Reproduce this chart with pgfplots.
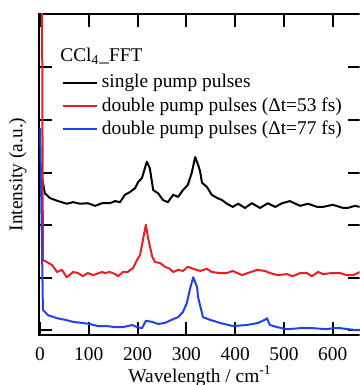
\documentclass[border=0pt]{standalone}
\usepackage{fontspec}
\setmainfont{Liberation Serif}
\usepackage{pgfplots}
\pgfplotsset{compat=1.18}
\definecolor{cred}{RGB}{232,30,36}
\definecolor{cblue}{RGB}{35,65,232}
\begin{document}
\fontsize{9.7}{11.6}\selectfont
\begin{tikzpicture}[font=\fontsize{9.7}{11.6}\selectfont]
\useasboundingbox (-19.75pt,-25pt) rectangle (160pt,167.5pt);
\clip (-19.75pt,-25pt) rectangle (160pt,167.5pt);
\begin{axis}[
  scale only axis, width=160.55pt, height=160.5pt,
  xmin=-1, xmax=657, ymin=0, ymax=6.114,
  xtick={0,100,...,600},
  ytick={0.095,1.095,2.095,3.095,4.095,5.095}, yticklabels={},
  tick pos=both, tick align=inside, major tick length=6.5pt,
  every tick/.style={line width=1pt, black},
  axis line style={line width=1pt},
  /pgf/number format/assume math mode=true,
  xticklabel style={yshift=-2.8pt},
  xlabel={Wavelength / cm\textsuperscript{-1}},
  ylabel={Intensity (a.u.)},
  every axis x label/.style={at={(axis description cs:0.5,-0.128)}, anchor=center},
  every axis y label/.style={at={(axis description cs:-0.068,0.5)}, rotate=90, anchor=center},
  legend style={at={(rel axis cs:0.068,0.819)}, anchor=north west, draw=none, fill=none,
    inner sep=0pt, nodes={inner sep=1pt}, row sep=1.3pt},
  legend cell align=left,
  every axis plot/.append style={line width=1pt, line join=round, mark=none},
]
\addplot[black] coordinates {
(0,3.30) (4,3.01) (10,2.70) (20,2.61) (34,2.56) (55,2.50) (68,2.53) (82,2.50) (98,2.51)
(113,2.46) (127,2.51) (143,2.51) (154,2.55) (164,2.53) (174,2.67) (184,2.72) (195,2.80)
(201,2.91) (209,2.99) (215,3.18) (219,3.30) (225,3.18) (232,2.76) (242,2.70) (252,2.57)
(262,2.53) (273,2.67) (283,2.63) (293,2.76) (303,2.86) (311,3.09) (318,3.39) (324,3.24)
(328,3.12) (332,2.90) (342,2.82) (352,2.67) (363,2.61) (373,2.57) (383,2.50) (395,2.44)
(406,2.50) (420,2.42) (434,2.51) (451,2.42) (467,2.51) (482,2.44) (496,2.51) (512,2.55)
(533,2.46) (549,2.50) (568,2.44) (580,2.44) (600,2.48) (621,2.42) (631,2.42) (645,2.46)
(656,2.44)
};
\addlegendentry{\hspace{1pt}single pump pulses}
\addplot[cred] coordinates {
(4,7.0) (6,1.43) (14,1.39) (25,1.33) (35,1.20) (45,1.24) (55,1.10) (68,1.20) (78,1.18)
(88,1.12) (98,1.18) (109,1.14) (127,1.20) (133,1.18) (143,1.20) (154,1.16) (160,1.12)
(170,1.20) (180,1.20) (191,1.28) (199,1.43) (205,1.52) (211,1.81) (217,2.10) (221,1.87)
(230,1.49) (236,1.39) (246,1.37) (256,1.30) (266,1.26) (273,1.20) (283,1.24) (293,1.22)
(303,1.30) (314,1.26) (328,1.22) (342,1.26) (352,1.20) (369,1.18) (383,1.18) (395,1.22)
(414,1.14) (426,1.18) (445,1.24) (461,1.22) (471,1.18) (488,1.14) (506,1.16) (518,1.12)
(533,1.18) (547,1.18) (557,1.12) (570,1.20) (580,1.16) (598,1.18) (615,1.18) (629,1.14)
(641,1.14) (656,1.20)
};
\addlegendentry{\hspace{1pt}double pump pulses (Δt=53 fs)}
\addplot[cblue] coordinates {
(0.5,3.94) (6,0.48) (16,0.38) (35,0.32) (51,0.29) (68,0.25) (86,0.23) (102,0.21) (119,0.17)
(137,0.17) (154,0.15) (170,0.15) (189,0.19) (199,0.15) (209,0.13) (217,0.27) (230,0.25)
(242,0.21) (256,0.23) (270,0.29) (283,0.34) (293,0.44) (301,0.61) (307,0.86) (314,1.10)
(322,0.91) (324,0.72) (334,0.34) (348,0.29) (369,0.23) (395,0.17) (424,0.19) (447,0.23)
(461,0.29) (465,0.32) (471,0.19) (486,0.15) (506,0.11) (533,0.13) (559,0.13) (588,0.11)
(600,0.13) (615,0.13) (641,0.10) (656,0.10)
};
\addlegendentry{\hspace{1pt}double pump pulses (Δt=77 fs)}
\node[anchor=base west, inner sep=0pt] at (rel axis cs:0.0636,0.8505) {CCl\textsubscript{4}\_FFT};
\end{axis}
\end{tikzpicture}
\end{document}
